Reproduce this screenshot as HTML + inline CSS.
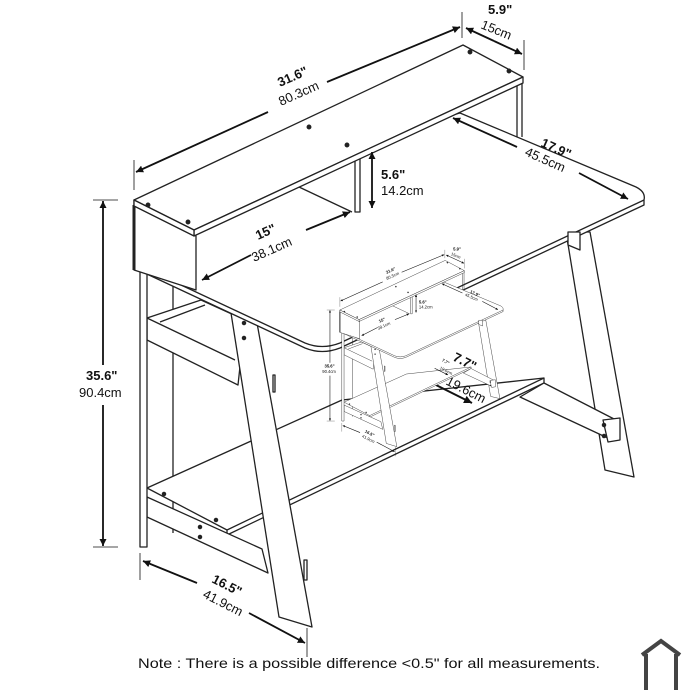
<!DOCTYPE html>
<html><head><meta charset="utf-8"><style>
html,body{margin:0;padding:0;background:#fff;}
svg{display:block;font-family:"Liberation Sans",sans-serif;}
</style></head><body>
<svg width="700" height="700" viewBox="0 0 700 700" xmlns="http://www.w3.org/2000/svg">
<defs>
<marker id="a" viewBox="0 0 10 10" refX="10" refY="5" markerWidth="4" markerHeight="4" orient="auto"><path d="M0,0 L10,5 L0,10 z" fill="#111"/></marker>
</defs>
<g id="d" stroke="#222" stroke-width="1.3" fill="#fff" stroke-linejoin="round">
  <polygon points="566,232 590,232 634,477 605,470"/>
  <line x1="173" y1="283" x2="173" y2="533"/>
  <polygon points="147,488 342,400 544,378 544,383 227,535 227,530"/>
  <line x1="227" y1="530" x2="544" y2="378"/>
  <polygon points="544,383 616,420 612,440 520,397"/>
  <polygon points="603,420 620,418 620,440 608,442"/>
  <circle cx="604" cy="425" r="1.6" fill="#222"/><circle cx="604" cy="436" r="1.6" fill="#222"/>
  <polygon points="147,318 201,300 245,320 238,385 147,340"/>
  <line x1="147" y1="318" x2="235" y2="360"/>
  <line x1="160" y1="322" x2="205" y2="305"/>
  <polygon points="147,497 262,549 268,573 147,517"/>
  <circle cx="164" cy="494" r="1.6" fill="#222"/><circle cx="200" cy="527" r="1.6" fill="#222"/><circle cx="200" cy="537" r="1.6" fill="#222"/><circle cx="216" cy="520" r="1.6" fill="#222"/>
  <rect x="140" y="270" width="7" height="277"/>
  <polygon points="231,313 257,323 312,627 279,617"/>
  <polygon points="273,375 275,375 275,392 273,392"/>
  <polygon points="304,560 307,560 307,580 304,580"/>
  <circle cx="244" cy="323" r="1.6" fill="#222"/><circle cx="244" cy="338" r="1.6" fill="#222"/>
  <path d="M460,113 L636,187 Q646,192 644,200 L644,205 L340,348 Q322,355 305,348 L134,268 L134,200 Z"/>
  <path d="M644,200 L340,343 Q322,350 305,343 L134,263" fill="none"/>
  <polygon points="568,232 580,232 580,250 568,245"/>
  <circle cx="441" cy="118" r="1.8" fill="#222"/>
  <polygon points="134,205 196,236 196,290 134,270"/>
  <line x1="134" y1="205" x2="134" y2="270" stroke-width="3"/>
  <line x1="517" y1="80" x2="517" y2="137"/><line x1="522" y1="80" x2="522" y2="137"/>
  <line x1="299" y1="187" x2="352" y2="212"/>
  <rect x="355" y="155" width="5" height="57"/>
  <polygon points="134,200 463,45 523,77 194,230"/>
  <polygon points="194,230 523,77 523,83 194,236"/>
  <polygon points="134,200 194,230 194,236 134,206"/>
  <circle cx="148" cy="205" r="1.8" fill="#222"/><circle cx="188" cy="222" r="1.8" fill="#222"/>
  <circle cx="309" cy="127" r="1.8" fill="#222"/><circle cx="347" cy="145" r="1.8" fill="#222"/>
  <circle cx="470" cy="52" r="1.8" fill="#222"/><circle cx="509" cy="71" r="1.8" fill="#222"/>
  <line x1="430" y1="382" x2="472" y2="403" stroke="#111" stroke-width="2" marker-end="url(#a)"/>
  <text x="452" y="360" font-size="13" font-weight="bold" fill="#111" stroke="none" transform="rotate(27 452 360)">7.7"</text>
  <text x="445" y="384" font-size="13" fill="#111" stroke="none" transform="rotate(27 445 384)">19.6cm</text>
  <g stroke="#111" stroke-width="1.8" fill="none">
    <line x1="134" y1="160" x2="134" y2="190" stroke-width="0.8"/>
    <line x1="462" y1="12" x2="462" y2="38" stroke-width="0.8"/>
    <line x1="524" y1="40" x2="524" y2="70" stroke-width="0.8"/>
    <line x1="268" y1="112" x2="136" y2="172" marker-end="url(#a)"/>
    <line x1="327" y1="82" x2="460" y2="27" marker-end="url(#a)"/>
    <line x1="494" y1="41" x2="466" y2="28" marker-end="url(#a)"/>
    <line x1="494" y1="41" x2="522" y2="54" marker-end="url(#a)"/>
    <line x1="517" y1="147" x2="453" y2="118" marker-end="url(#a)"/>
    <line x1="579" y1="173" x2="628" y2="199" marker-end="url(#a)"/>
    <line x1="372" y1="180" x2="372" y2="152" marker-end="url(#a)"/>
    <line x1="372" y1="180" x2="372" y2="208" marker-end="url(#a)"/>
    <line x1="306" y1="230" x2="350" y2="212" marker-end="url(#a)"/>
    <line x1="251" y1="255" x2="202" y2="280" marker-end="url(#a)"/>
    <line x1="93" y1="200" x2="118" y2="200" stroke-width="0.8"/>
    <line x1="93" y1="547" x2="118" y2="547" stroke-width="0.8"/>
    <line x1="103" y1="365" x2="103" y2="201" marker-end="url(#a)"/>
    <line x1="103" y1="405" x2="103" y2="546" marker-end="url(#a)"/>
    <line x1="140" y1="553" x2="140" y2="580" stroke-width="0.8"/>
    <line x1="307" y1="628" x2="307" y2="657" stroke-width="0.8"/>
    <line x1="197" y1="583" x2="143" y2="561" marker-end="url(#a)"/>
    <line x1="249" y1="613" x2="305" y2="643" marker-end="url(#a)"/>
  </g>
  <g fill="#111" stroke="none" font-size="13">
    <text x="280" y="87" font-weight="bold" transform="rotate(-24 280 87)">31.6"</text>
    <text x="281" y="106" transform="rotate(-24 281 106)">80.3cm</text>
    <text x="488" y="14" font-weight="bold">5.9"</text>
    <text x="480" y="28" transform="rotate(22 480 28)">15cm</text>
    <text x="540" y="146" font-weight="bold" transform="rotate(24 540 146)">17.9"</text>
    <text x="524" y="155" transform="rotate(24 524 155)">45.5cm</text>
    <text x="381" y="179" font-weight="bold">5.6"</text>
    <text x="381" y="195">14.2cm</text>
    <text x="258" y="240" font-weight="bold" transform="rotate(-24 258 240)">15"</text>
    <text x="254" y="262" transform="rotate(-24 254 262)">38.1cm</text>
    <text x="86" y="380" font-weight="bold">35.6"</text>
    <text x="79" y="397">90.4cm</text>
    <text x="211" y="582" font-weight="bold" transform="rotate(27 211 582)">16.5"</text>
    <text x="202" y="597" transform="rotate(27 202 597)">41.9cm</text>
  </g>
</g>
<use href="#d" transform="translate(297,246) scale(0.32)"/>
<text x="138" y="668" font-size="14" fill="#111" textLength="462" lengthAdjust="spacingAndGlyphs">Note : There is a possible difference &lt;0.5" for all measurements.</text>
<g fill="none" stroke="#444" stroke-width="4">
  <path d="M642,655 L661,641 L680,655"/>
  <line x1="646" y1="654" x2="646" y2="690"/>
  <line x1="676" y1="654" x2="676" y2="690"/>
</g>
</svg>
</body></html>
